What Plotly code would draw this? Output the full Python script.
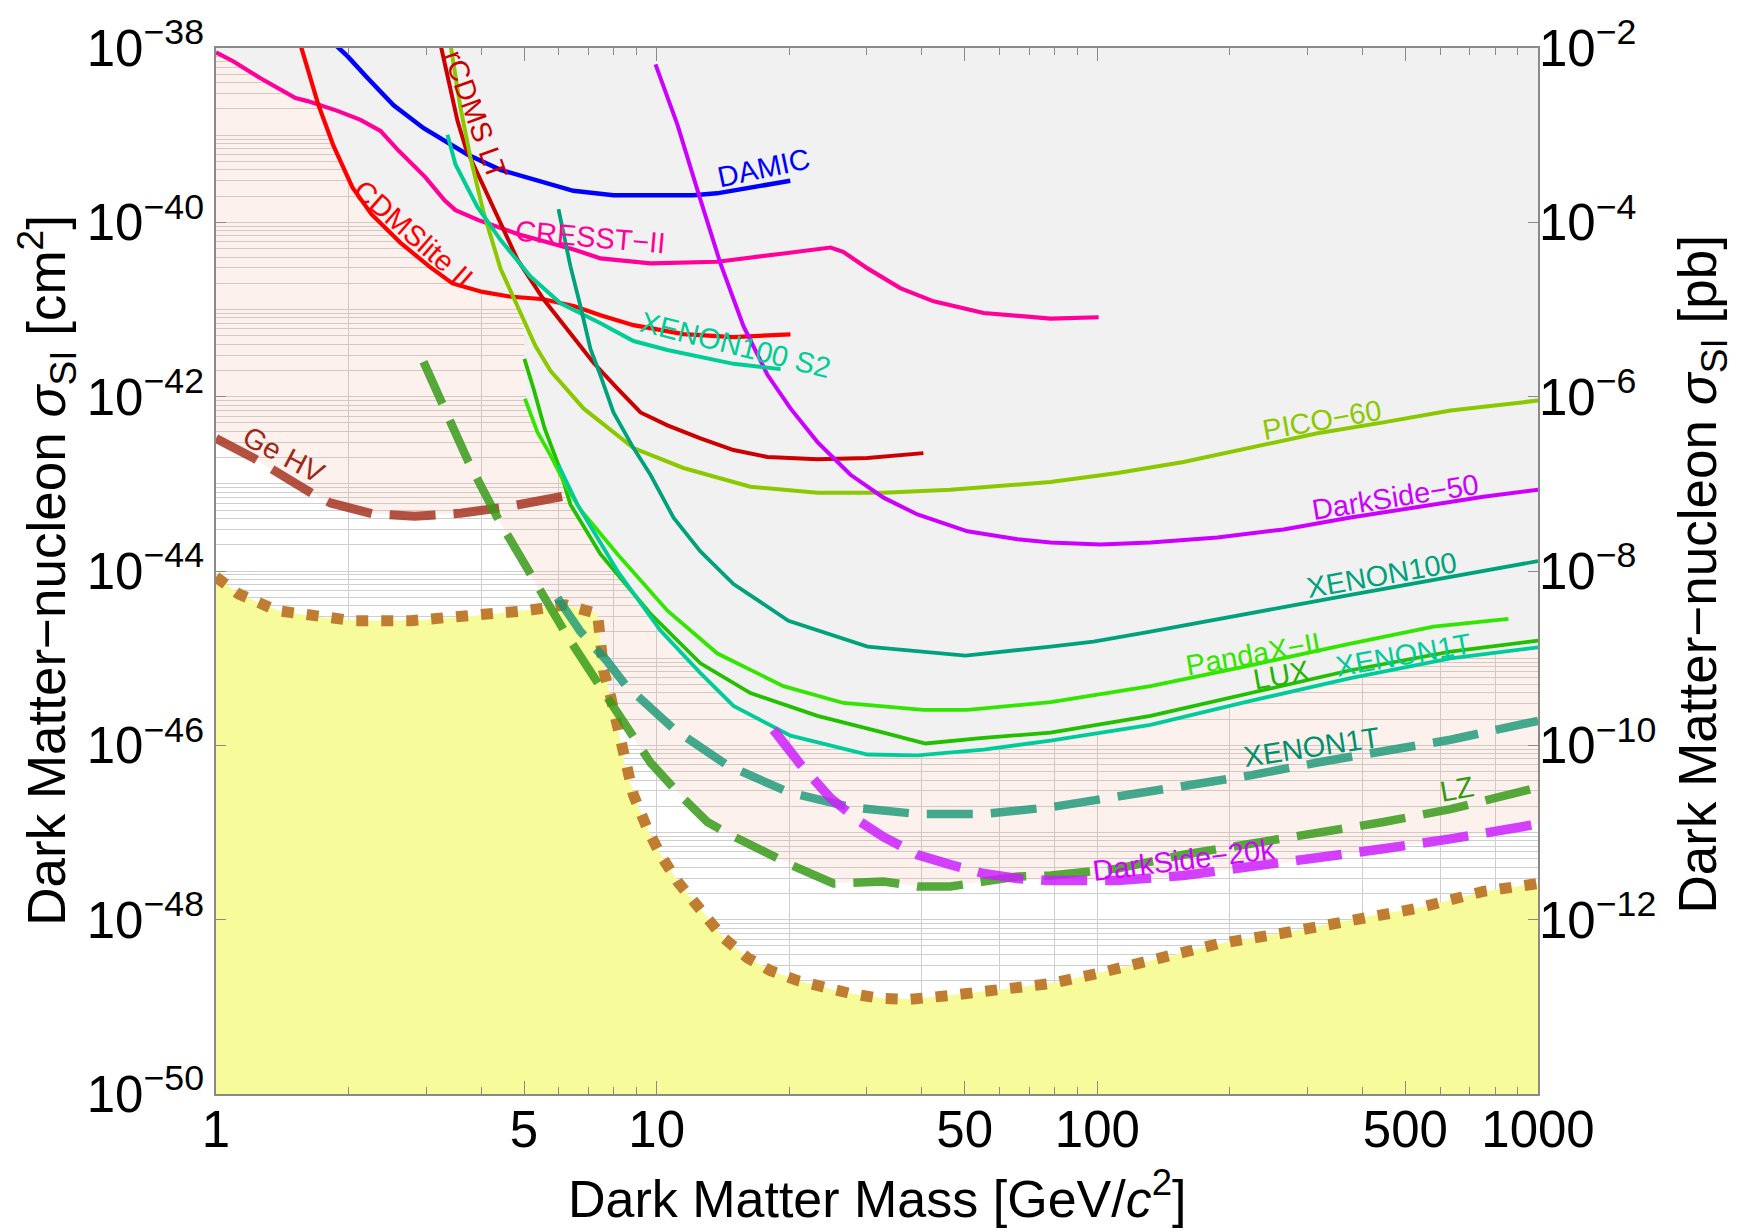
import numpy as np
import plotly.graph_objects as go

# ---------------- data (mass in GeV/c^2, cross-section in cm^2) ----------------
damic_m = [1.88, 1.99, 2.21, 2.53, 2.96, 3.72, 4.42, 6.47, 7.98, 12.1, 13.7, 16.3, 20.1]
damic_s = [1.05e-38, 8.0e-39, 4.5e-39, 2.2e-39, 1.2e-39, 6.0e-40, 4.0e-40, 2.3e-40, 2.05e-40, 2.05e-40, 2.15e-40, 2.5e-40, 3.0e-40]

cresst_m = [1.0, 1.096, 1.262, 1.379, 1.515, 1.613, 1.726, 1.887, 2.128, 2.362, 2.595, 2.988, 3.301, 3.495, 3.941, 4.832,
            6.511, 7.457, 9.68, 13.74, 19.41, 24.8, 26.5, 30.1, 35.7, 42.5, 55.2, 78.3, 100.7]
cresst_s = [8.9e-39, 7.0e-39, 4.5e-39, 3.46e-39, 2.66e-39, 2.46e-39, 2.22e-39, 1.90e-39, 1.50e-39, 1.12e-39, 6.65e-40, 3.28e-40,
            1.79e-40, 1.38e-40, 1.06e-40, 7.36e-41, 4.84e-41, 3.86e-41, 3.38e-41, 3.53e-41, 4.39e-41, 5.14e-41, 4.59e-41,
            2.96e-41, 1.76e-41, 1.24e-41, 9.12e-42, 7.87e-42, 8.15e-42]

cdmslite_m = [1.554, 1.708, 1.847, 2.040, 2.253, 2.623, 3.051, 3.441, 4.024, 4.634, 5.537, 6.511, 7.457, 8.86, 11.5, 14.94, 20.12]
cdmslite_s = [1.1e-38, 2.22e-39, 7.57e-40, 2.52e-40, 1.24e-40, 5.82e-41, 3.10e-41, 1.99e-41, 1.59e-41, 1.41e-41, 1.31e-41,
              1.09e-41, 8.59e-42, 6.61e-42, 5.22e-42, 4.83e-42, 5.18e-42]

scdms_m = [3.232, 3.405, 3.532, 3.684, 3.983, 4.422, 4.833, 5.537, 6.277, 7.189, 8.151, 9.19, 10.58, 12.57, 14.94, 17.84,
           23.17, 30.09, 40.3]
scdms_s = [1.1e-38, 3.20e-39, 1.46e-39, 7.19e-40, 3.03e-40, 9.57e-41, 3.73e-41, 1.31e-41, 5.96e-42, 2.45e-42, 1.24e-42,
           6.59e-43, 4.69e-43, 3.33e-43, 2.44e-43, 2.03e-43, 1.92e-43, 1.98e-43, 2.25e-43]

pico_m = [3.405, 3.588, 3.780, 4.046, 4.422, 4.833, 5.309, 5.741, 6.823, 8.86, 11.5, 16.32, 23.17, 32.7, 46.4, 78.3, 111.1,
          156.8, 222.6, 315.9, 446, 633, 1000]
pico_s = [1.1e-38, 2.05e-39, 5.53e-40, 1.31e-40, 2.94e-41, 1.09e-41, 3.81e-42, 1.98e-42, 7.33e-43, 2.57e-43, 1.52e-43,
          9.25e-44, 7.91e-44, 7.91e-44, 8.55e-44, 1.05e-43, 1.33e-43, 1.78e-43, 2.57e-43, 3.80e-43, 5.07e-43, 6.95e-43, 9.03e-43]

ds50_m = [9.94, 11.15, 12.38, 13.96, 15.74, 17.84, 20.12, 23.17, 27.54, 32.72, 39.07, 50.74, 65.9, 78.3, 101.6, 132.0,
          187.3, 264.6, 375.4, 532.7, 751.8, 1000]
ds50_s = [6.49e-39, 1.31e-39, 2.33e-40, 3.35e-41, 6.44e-42, 1.78e-42, 7.33e-43, 3.01e-43, 1.27e-43, 6.94e-44, 4.45e-44,
          2.85e-44, 2.31e-44, 2.13e-44, 2.02e-44, 2.13e-44, 2.43e-44, 3.00e-44, 4.10e-44, 5.47e-44, 7.11e-44, 8.55e-44]

x100s2_m = [3.352, 3.495, 3.922, 4.422, 5.172, 6.050, 7.457, 8.86, 10.58, 14.94, 19.1]
x100s2_s = [1.01e-39, 4.61e-40, 1.49e-40, 6.29e-41, 2.39e-41, 1.18e-41, 6.97e-42, 4.35e-42, 3.43e-42, 2.38e-42, 2.07e-42]

x100_m = [5.987, 6.375, 6.716, 7.076, 7.457, 7.98, 8.86, 9.68, 10.92, 12.57, 14.94, 19.91, 30.09, 50.22, 78.3, 98.0, 132,
          187.3, 264.6, 375.4, 532.7, 751.8, 1000]
x100_s = [1.42e-40, 3.10e-41, 1.09e-41, 3.52e-42, 1.74e-42, 6.59e-43, 2.57e-43, 1.27e-43, 4.10e-44, 1.68e-44, 7.09e-45,
          2.69e-45, 1.36e-45, 1.07e-45, 1.36e-45, 1.55e-45, 2.01e-45, 2.81e-45, 3.85e-45, 5.31e-45, 7.31e-45, 1.0e-44, 1.30e-44]

lux_m = [5.01, 5.254, 5.566, 5.987, 6.375, 7.457, 9.68, 12.57, 16.32, 23.17, 32.72, 40.74, 55.15, 78.3, 132, 222.6, 375.4, 633, 1000]
lux_s = [2.71e-42, 1.24e-42, 4.34e-43, 1.64e-43, 5.77e-44, 1.56e-44, 3.23e-45, 8.73e-46, 3.98e-46, 2.18e-46, 1.40e-46,
         1.05e-46, 1.22e-46, 1.40e-46, 2.18e-46, 3.98e-46, 7.27e-46, 1.19e-45, 1.59e-45]

pandax_m = [5.024, 5.364, 5.741, 6.209, 6.716, 8.15, 10.58, 13.74, 19.4, 26.54, 40.3, 50.74, 78.3, 132, 222.6, 375.4, 579, 856.6]
pandax_s = [9.51e-43, 3.90e-43, 2.14e-43, 9.75e-44, 5.06e-44, 1.56e-44, 3.50e-45, 1.13e-45, 4.78e-46, 3.06e-46, 2.55e-46,
            2.55e-46, 3.14e-46, 4.78e-46, 8.28e-46, 1.47e-45, 2.30e-45, 2.83e-45]

x1t_m = [5.987, 6.612, 8.15, 10.2, 12.57, 14.94, 20.12, 30.09, 39.07, 55.15, 78.3, 132, 222.6, 375.4, 633, 1000]
x1t_s = [1.64e-43, 5.77e-44, 9.98e-45, 2.07e-45, 6.73e-46, 2.83e-46, 1.29e-46, 7.85e-47, 7.65e-47, 8.95e-47, 1.13e-46,
         1.72e-46, 3.23e-46, 5.90e-46, 9.95e-46, 1.33e-45]

# projections
gehv_m = [1.0, 1.22, 1.647, 1.819, 2.266, 2.821, 3.588, 4.562, 6.114]
gehv_s = [3.31e-43, 1.96e-43, 7.83e-44, 6.03e-44, 4.52e-44, 4.25e-44, 4.59e-44, 5.43e-44, 7.17e-44]

lz_m = [2.957, 3.249, 3.741, 4.399, 5.254, 6.277, 7.535, 9.0, 9.68, 11.32, 13.04, 14.71, 16.93, 20.12, 25.19, 32.72, 39.07,
        46.42, 55.15, 65.88, 78.3, 111.1, 156.8, 222.6, 315.9, 446, 633, 1000]
lz_s = [2.51e-42, 8.34e-43, 1.78e-43, 3.70e-44, 7.67e-45, 1.77e-45, 4.30e-46, 1.07e-46, 6.35e-47, 2.67e-47, 1.32e-47,
        9.38e-48, 6.50e-48, 4.28e-48, 2.60e-48, 2.74e-48, 2.40e-48, 2.40e-48, 2.74e-48, 3.13e-48, 3.21e-48, 3.85e-48,
        5.56e-48, 7.41e-48, 9.64e-48, 1.32e-47, 1.85e-47, 3.30e-47]

x1tp_m = [5.956, 6.716, 7.692, 8.50, 10.92, 14.48, 19.91, 27.54, 39.07, 55.15, 78.3, 111.1, 156.8, 222.6, 315.9, 446, 633, 1000]
x1tp_s = [4.92e-45, 2.02e-45, 9.44e-46, 4.91e-46, 1.55e-46, 5.88e-47, 2.90e-47, 1.95e-47, 1.63e-47, 1.63e-47, 1.95e-47,
          2.54e-47, 3.48e-47, 4.52e-47, 6.35e-47, 8.71e-47, 1.16e-46, 1.91e-46]

ds20k_m = [18.41, 19.81, 21.2, 24.8, 29.0, 32.72, 39.07, 46.42, 55.15, 65.88, 78.3, 111.1, 156.8, 222.6, 315.9, 446, 633, 1000]
ds20k_s = [1.51e-46, 9.18e-47, 6.04e-47, 2.48e-47, 1.32e-47, 8.91e-48, 5.56e-48, 4.28e-48, 3.38e-48, 2.96e-48, 2.81e-48,
           2.81e-48, 3.21e-48, 4.06e-48, 5.00e-48, 6.50e-48, 8.45e-48, 1.25e-47]

# neutrino floor
floor_m = [1.0, 1.125, 1.379, 1.682, 2.051, 2.763, 3.741, 5.039, 6.210, 7.340, 7.457, 7.575, 7.857, 8.151, 8.41, 8.86, 9.53,
           10.2, 11.15, 12.57, 14.18, 16.07, 18.13, 20.87, 23.91, 27.54, 32.2, 37.66, 46.42, 60.26, 78.3, 101.6, 132,
           187.3, 264.6, 375.4, 532.7, 751.8, 1000]
floor_s = [8.53e-45, 5.46e-45, 3.50e-45, 2.99e-45, 2.69e-45, 2.69e-45, 2.99e-45, 3.50e-45, 4.09e-45, 3.23e-45, 1.59e-45,
           7.27e-46, 3.68e-46, 1.68e-46, 6.88e-47, 2.68e-47, 1.10e-47, 5.56e-48, 2.74e-48, 1.35e-48, 6.17e-49, 3.65e-49,
           2.60e-49, 2.00e-49, 1.66e-49, 1.42e-49, 1.25e-49, 1.22e-49, 1.35e-49, 1.58e-49, 1.85e-49, 2.46e-49, 3.38e-49,
           5.27e-49, 7.03e-49, 1.01e-48, 1.35e-48, 2.11e-48, 2.60e-48]

x_tick_vals = [1, 5, 10, 50, 100, 500, 1000]
x_tick_text = ["1", "5", "10", "50", "100", "500", "1000"]
y_tick_exp = [-50, -48, -46, -44, -42, -40, -38]
y2_tick_exp = [-12, -10, -8, -6, -4, -2]

# ---------------- figure ----------------
FONT = "Liberation Sans, Arial, Helvetica, sans-serif"
fig = go.Figure()

current = [(cresst_m, cresst_s), (cdmslite_m, cdmslite_s), (damic_m, damic_s), (scdms_m, scdms_s), (pico_m, pico_s),
           (ds50_m, ds50_s), (x100s2_m, x100s2_s), (x100_m, x100_s), (lux_m, lux_s), (pandax_m, pandax_s), (x1t_m, x1t_s)]
future = [(gehv_m, gehv_s), (lz_m, lz_s), (x1tp_m, x1tp_s), (ds20k_m, ds20k_s)]

gm = np.logspace(0, 3, 900)
lg = np.log10(gm)


def on_grid(m, s):
    return np.interp(lg, np.log10(m), np.log10(s), left=np.nan, right=np.nan)


cur_env = np.nanmin(np.vstack([on_grid(m, s) for m, s in current]), axis=0)
cur_env = np.minimum(cur_env, -38.0)
fut_env = np.nanmin(np.vstack([on_grid(m, s) for m, s in future]), axis=0)
floor_g = on_grid(floor_m, floor_s)
low = np.maximum(fut_env, floor_g)
up = np.maximum(cur_env, low)
xs = np.concatenate([gm, gm[::-1]])

# pink band (between present limits and projections) – semi transparent so grid shows through
fig.add_trace(go.Scatter(x=xs, y=np.concatenate([10 ** up, 10 ** low[::-1]]), mode="lines", fill="toself",
                         fillcolor="rgba(240,165,150,0.16)", line=dict(width=0), hoverinfo="skip"))
# gray excluded region
fig.add_trace(go.Scatter(x=xs, y=np.concatenate([10 ** cur_env, np.full(gm.size, 1e-38)]), mode="lines", fill="toself",
                         fillcolor="#f1f1f1", line=dict(width=0), hoverinfo="skip"))
# yellow neutrino region
fig.add_trace(go.Scatter(x=xs, y=np.concatenate([10 ** floor_g, np.full(gm.size, 1e-50)]), mode="lines", fill="toself",
                         fillcolor="#f7fb99", line=dict(width=0), hoverinfo="skip"))

# neutrino floor dotted
fig.add_trace(go.Scatter(x=floor_m, y=floor_s, mode="lines", line=dict(color="rgb(192,124,48)", width=11, dash="12px,13px"),
                         hoverinfo="skip"))

solid_style = [
    (cresst_m, cresst_s, "#ff0099", 4.2),
    (cdmslite_m, cdmslite_s, "#ff0000", 4.2),
    (damic_m, damic_s, "#0000ff", 4.5),
    (scdms_m, scdms_s, "#cc0000", 4.0),
    (pico_m, pico_s, "#8cc800", 4.0),
    (ds50_m, ds50_s, "#cc00ff", 4.0),
    (x100s2_m, x100s2_s, "#00cc96", 4.0),
    (x100_m, x100_s, "#00a27c", 3.8),
    (lux_m, lux_s, "#22c000", 3.8),
    (pandax_m, pandax_s, "#33e600", 3.8),
    (x1t_m, x1t_s, "#00cc99", 3.8),
]
for m, s, c, w in solid_style:
    fig.add_trace(go.Scatter(x=m, y=s, mode="lines", line=dict(color=c, width=w), hoverinfo="skip"))

dashed_style = [
    (gehv_m, gehv_s, "rgba(160,40,20,0.8)", 9),
    (lz_m, lz_s, "rgba(55,155,25,0.85)", 8.5),
    (x1tp_m, x1tp_s, "rgba(20,150,115,0.8)", 8.5),
    (ds20k_m, ds20k_s, "rgba(205,30,255,0.85)", 9.5),
]
for m, s, c, w in dashed_style:
    fig.add_trace(go.Scatter(x=m, y=s, mode="lines", line=dict(color=c, width=w, dash="46px,18px"), hoverinfo="skip"))

# dummy traces for overlay axes
fig.add_trace(go.Scatter(x=[10], y=[1e-44], xaxis="x2", yaxis="y", mode="markers", marker=dict(opacity=0), hoverinfo="skip"))
fig.add_trace(go.Scatter(x=[10], y=[1e-8], xaxis="x", yaxis="y2", mode="markers", marker=dict(opacity=0), hoverinfo="skip"))

# curve labels: (text, mass, sigma, angle, color)
labels = [
    ("DAMIC", 17.47, 4.15e-40, -12, "#0000ff"),
    ("CRESST−II", 7.076, 6.8e-41, 5, "#ff0099"),
    ("CDMSlite II", 2.806, 7.36e-41, 41, "#ff0000"),
    ("rCDMS LT", 3.88, 1.71e-39, 70, "#cc0000"),
    ("XENON100 S2", 15.10, 3.92e-42, 14, "#00cc96"),
    ("PICO−60", 322.8, 5.35e-43, -10, "#8cc800"),
    ("DarkSide−50", 472.8, 7.11e-44, -9, "#cc00ff"),
    ("XENON100", 441.8, 8.97e-45, -10, "#00a27c"),
    ("PandaX−II", 226.1, 1.13e-45, -10, "#33e600"),
    ("LUX", 261.7, 6.37e-46, -10, "#22b400"),
    ("XENON1T", 495.1, 1.10e-45, -10, "#00cc99"),
    ("XENON1T", 306.1, 9.66e-47, -8.5, "#00906c"),
    ("LZ", 656.5, 3.13e-47, -10, "#339911"),
    ("DarkSide−20k", 156.8, 4.88e-48, -7, "#d200ff"),
    ("Ge HV", 1.43, 2.14e-43, 28, "#a02818"),
]
for t, m, s, a, c in labels:
    fig.add_annotation(x=np.log10(m), y=np.log10(s), xref="x", yref="y", text=t, textangle=a, showarrow=False,
                       xanchor="center", yanchor="middle", font=dict(family=FONT, size=29, color=c))

# axis titles
fig.add_annotation(x=0.5, y=-0.097, xref="paper", yref="paper", text="Dark Matter Mass [GeV/<i>c</i><sup>2</sup>]",
                   showarrow=False, font=dict(family=FONT, size=52, color="black"), xanchor="center", yanchor="middle",
                   borderpad=0)
fig.add_annotation(x=-0.128, y=0.501, xref="paper", yref="paper", textangle=-90,
                   text="Dark Matter−nucleon <i>σ</i><sub>SI</sub> [cm<sup>2</sup>]", xanchor="center", yanchor="middle",
                   showarrow=False, font=dict(family=FONT, size=53, color="black"))
fig.add_annotation(x=1.1235, y=0.497, xref="paper", yref="paper", textangle=-90,
                   text="Dark Matter−nucleon <i>σ</i><sub>SI</sub> [pb]", xanchor="center", yanchor="middle",
                   showarrow=False, font=dict(family=FONT, size=53, color="black"))

grid_x = [2, 4, 6, 8, 10, 20, 40, 60, 80, 100, 200, 400, 600, 800]
minor_x = [k * 10 ** e for e in range(3) for k in (2, 3, 4, 6, 7, 8, 9)]
minor_y = [k * 10.0 ** e for e in range(-50, -38) for k in range(1, 10)] + [1e-38]

axcol = "#8a8a8a"
TICKSIZE = 51
fig.update_layout(
    width=1747, height=1232, margin=dict(l=216, r=209, t=40, b=138),
    paper_bgcolor="white", plot_bgcolor="white", showlegend=False,
    font=dict(family=FONT, color="black"),
    xaxis=dict(type="log", range=[0, 3], tickmode="array", tickvals=x_tick_vals, ticktext=x_tick_text,
               ticks="inside", ticklen=13, tickwidth=1.3, tickcolor=axcol, showgrid=False, zeroline=False,
               showline=True, linecolor=axcol, linewidth=1.6, mirror="ticks", ticklabelstandoff=-10,
               tickfont=dict(size=TICKSIZE, color="black"),
               minor=dict(tickvals=minor_x, ticks="inside", ticklen=7, tickwidth=1.2, tickcolor=axcol, showgrid=False)),
    xaxis2=dict(type="log", range=[0, 3], overlaying="x", anchor="y", side="bottom", tickmode="array", tickvals=grid_x,
                ticks="", showticklabels=False, showgrid=True, gridcolor="#cfcfcf", gridwidth=1.2, zeroline=False,
                showline=False),
    yaxis=dict(type="log", range=[-50, -38], tickmode="array", tickvals=[10.0 ** e for e in y_tick_exp],
               ticktext=["10<sup>−%d</sup>" % (-e) for e in y_tick_exp], ticks="inside", ticklen=10, tickwidth=1.3,
               tickcolor=axcol, showgrid=True, gridcolor="#cfcfcf", gridwidth=1.2, zeroline=False,
               showline=True, linecolor=axcol, linewidth=1.6, mirror=True, tickfont=dict(size=TICKSIZE, color="black"),
               minor=dict(tickvals=minor_y, ticks="", showgrid=True, gridcolor="#cfcfcf", gridwidth=1.2)),
    yaxis2=dict(type="log", range=[-14, -2], overlaying="y", anchor="x", side="right", tickmode="array",
                tickvals=[10.0 ** e for e in y2_tick_exp], ticktext=["10<sup>−%d</sup>" % (-e) for e in y2_tick_exp],
                ticks="inside", ticklen=10, tickwidth=1.3, tickcolor=axcol, showgrid=False, zeroline=False,
                showline=False, tickfont=dict(size=TICKSIZE, color="black")),
)

fig.write_html("out.html")
